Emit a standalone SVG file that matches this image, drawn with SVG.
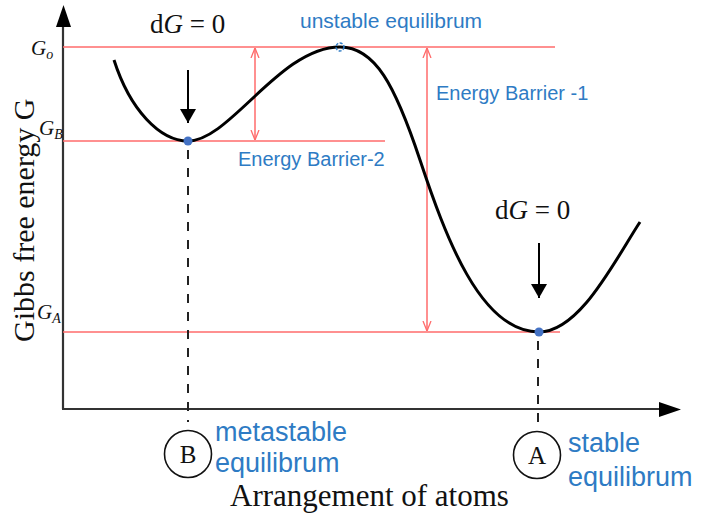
<svg xmlns="http://www.w3.org/2000/svg" width="702" height="519" viewBox="0 0 702 519">
<defs>
<style>
.red{stroke:#FF6B6B;stroke-width:1.5;fill:none}
.axis{stroke:#333;stroke-width:2.2;fill:none}
.dash{stroke:#222;stroke-width:2;stroke-dasharray:9 9;fill:none}
.blue{fill:#2E7BC4;font-family:"Liberation Sans","Open Sans",sans-serif}
.serif{font-family:"Liberation Serif","DejaVu Serif",serif;fill:#111}
.curve{stroke:#000;stroke-width:3;fill:none}
</style>
<marker id="ra" viewBox="0 0 10 10" refX="10" refY="5" markerWidth="10" markerHeight="10" markerUnits="userSpaceOnUse" orient="auto-start-reverse">
<path d="M0,1 L10,5 L0,9" fill="none" stroke="#FF6B6B" stroke-width="1.3"/>
</marker>
<marker id="ba" viewBox="0 0 14 16" refX="14" refY="8" markerWidth="14" markerHeight="16" markerUnits="userSpaceOnUse" orient="auto">
<path d="M0,0 L14,8 L0,16 Z" fill="#000"/>
</marker>
</defs>
<rect width="702" height="519" fill="#fff"/>
<g id="axes">
<line class="axis" x1="63" y1="409" x2="63" y2="24"/>
<path d="M56,27 L63.5,5 L71,27 Z" fill="#000"/>
<line class="axis" x1="62" y1="409" x2="662" y2="409"/>
<path d="M659,402 L681,409.5 L659,417 Z" fill="#000"/>
</g>
<g id="levels">
<line class="red" x1="63" y1="47" x2="555" y2="47"/>
<line class="red" x1="63" y1="141" x2="385" y2="141"/>
<line class="red" x1="63" y1="332" x2="560" y2="332"/>
</g>
<g id="connectors">
<line class="red" x1="255" y1="48" x2="255" y2="140" marker-start="url(#ra)" marker-end="url(#ra)"/>
<line class="red" x1="427" y1="48" x2="427" y2="331" marker-start="url(#ra)" marker-end="url(#ra)"/>
<line x1="188" y1="70" x2="188" y2="123" stroke="#000" stroke-width="2" marker-end="url(#ba)"/>
<line x1="539" y1="243" x2="539" y2="298" stroke="#000" stroke-width="2" marker-end="url(#ba)"/>
<line class="dash" x1="188" y1="150" x2="188" y2="422"/>
<line class="dash" x1="538" y1="341" x2="538" y2="431"/>
</g>
<g id="curve">
<path class="curve" d="M114,60 C130,110 160,141 188,141 C230,141 280,47 340,47 C375,47 395,85 420,160 C445,235 480,332 539,332 C580,332 615,260 640,222"/>
</g>
<g id="points">
<circle cx="188" cy="141" r="4.5" fill="#4472C4"/>
<circle cx="539" cy="332" r="4.5" fill="#4472C4"/>
<circle cx="340" cy="47" r="4" fill="none" stroke="#2E7BC4" stroke-width="1.5" stroke-dasharray="3 1.5"/>
</g>
<g id="labels">
<text class="serif" x="150" y="33" font-size="27">d<tspan font-style="italic">G</tspan> = 0</text>
<text class="serif" x="495" y="219" font-size="27">d<tspan font-style="italic">G</tspan> = 0</text>
<text class="serif" x="31" y="55" font-size="21" font-style="italic">G<tspan font-size="14" dy="4">o</tspan></text>
<text class="serif" x="39" y="135" font-size="21" font-style="italic">G<tspan font-size="14" dy="4">B</tspan></text>
<text class="serif" x="37" y="319" font-size="21" font-style="italic">G<tspan font-size="14" dy="4">A</tspan></text>
<text class="serif" font-size="30" transform="translate(34,342) rotate(-90)">Gibbs free energy G</text>
<text class="serif" x="230" y="506" font-size="31">Arrangement of atoms</text>
<text class="blue" x="300" y="28" font-size="21">unstable equilibrum</text>
<text class="blue" x="436" y="100" font-size="20">Energy Barrier -1</text>
<text class="blue" x="238" y="166" font-size="20">Energy Barrier-2</text>
</g>
<g id="nodeB">
<circle cx="188" cy="454" r="23.5" fill="none" stroke="#111" stroke-width="1.6"/>
<text class="serif" x="188" y="463" font-size="25" text-anchor="middle">B</text>
<text class="blue" x="215" y="441" font-size="27">metastable</text>
<text class="blue" x="215" y="472" font-size="27">equilibrum</text>
</g>
<g id="nodeA">
<circle cx="537" cy="455" r="23.5" fill="none" stroke="#111" stroke-width="1.6"/>
<text class="serif" x="537" y="464" font-size="25" text-anchor="middle">A</text>
<text class="blue" x="568" y="452" font-size="27">stable</text>
<text class="blue" x="568" y="486" font-size="27">equilibrum</text>
</g>
</svg>
